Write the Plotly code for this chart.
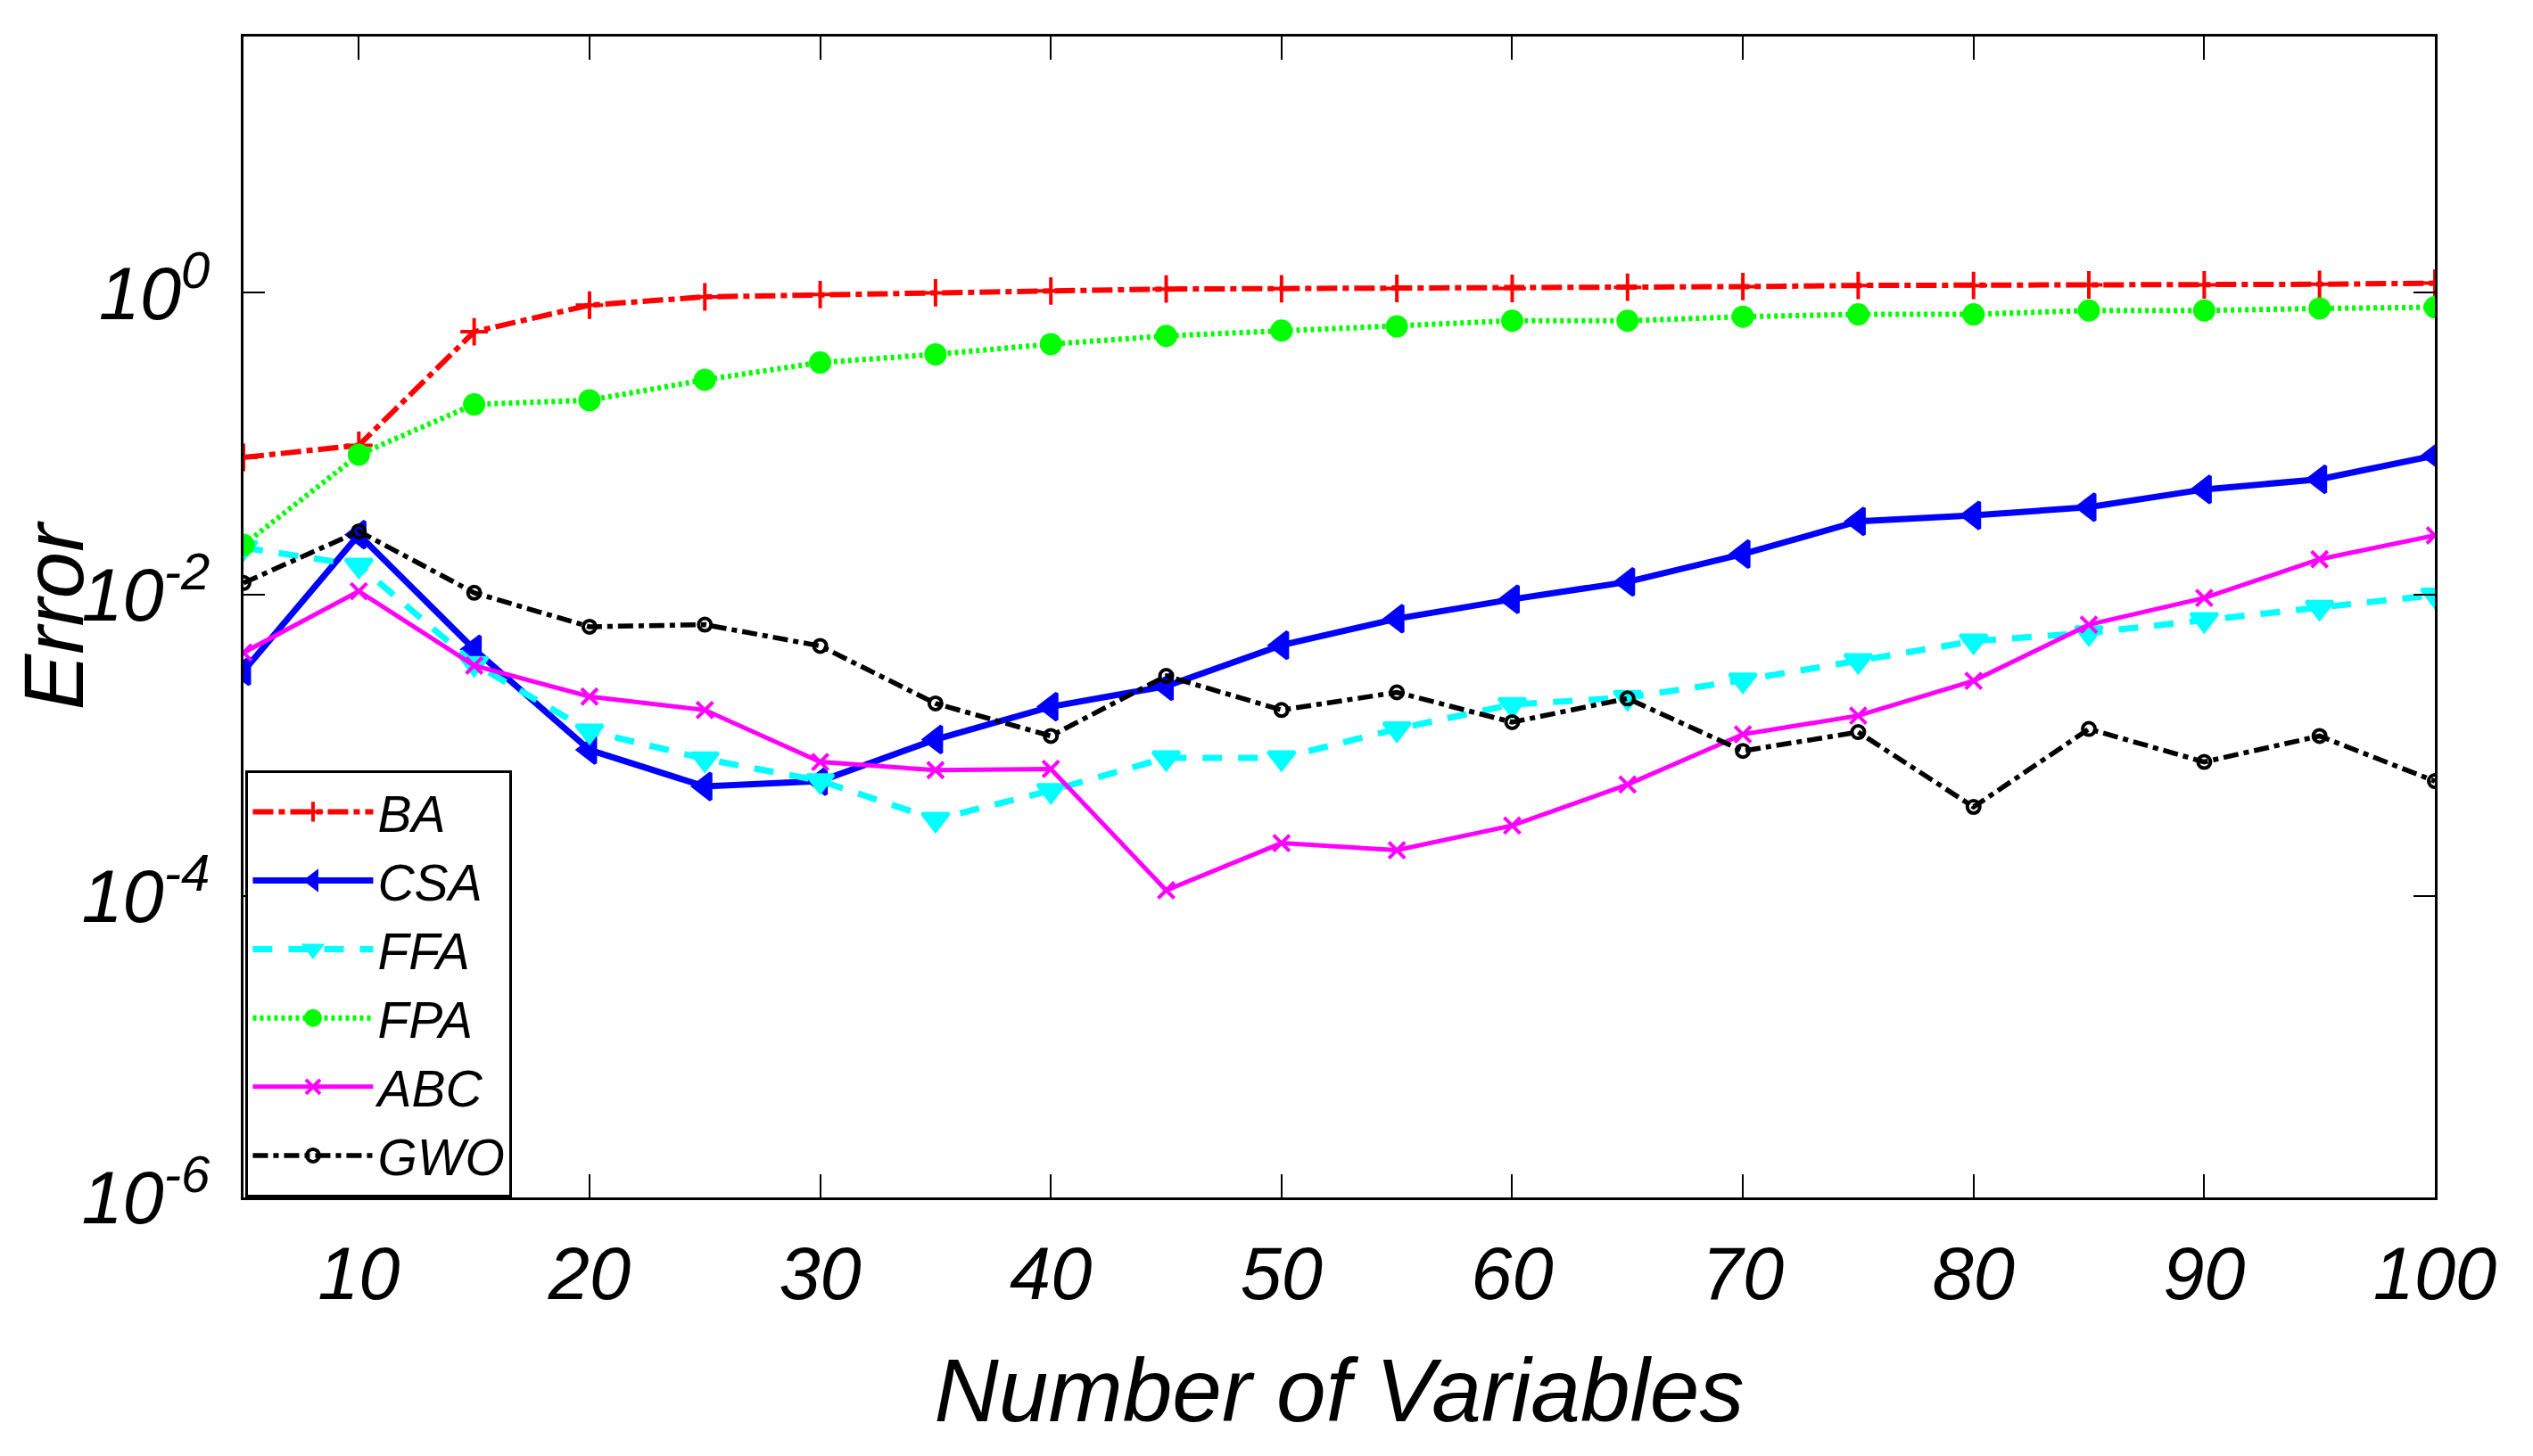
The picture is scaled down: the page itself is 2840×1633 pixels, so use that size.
import plotly.graph_objects as go

# number of variables (x axis)
variables = [5, 10, 15, 20, 25, 30, 35, 40, 45, 50, 55, 60, 65, 70, 75, 80, 85, 90, 95, 100]

# error of each algorithm
ba_err = [0.081, 0.0975, 0.552, 0.829, 0.94, 0.975, 1.0, 1.03, 1.06, 1.065,
          1.07, 1.07, 1.09, 1.10, 1.12, 1.12, 1.13, 1.13, 1.14, 1.16]
csa_err = [0.0031, 0.0249, 0.00432, 0.00093, 0.000532, 0.000577, 0.00109, 0.0018, 0.00246, 0.0046,
           0.0069, 0.00928, 0.0121, 0.0185, 0.0305, 0.0334, 0.0379, 0.0497, 0.058, 0.0834]
ffa_err = [0.0204, 0.0156, 0.00347, 0.00124, 0.00081, 0.00058, 0.000322, 0.0005, 0.000824, 0.000824,
           0.00128, 0.00186, 0.00207, 0.0027, 0.00363, 0.0049, 0.00556, 0.00679, 0.00819, 0.00988]
fpa_err = [0.0213, 0.0845, 0.182, 0.194, 0.265, 0.345, 0.391, 0.457, 0.518, 0.562,
           0.599, 0.653, 0.653, 0.695, 0.72, 0.72, 0.764, 0.764, 0.788, 0.803]
abc_err = [0.00411, 0.0105, 0.00337, 0.0021, 0.00171, 0.000774, 0.000683, 0.000695, 0.000109, 0.000224,
           0.000201, 0.000293, 0.000548, 0.00118, 0.00157, 0.00267, 0.00629, 0.00946, 0.0171, 0.0246]
gwo_err = [0.0119, 0.0262, 0.01025, 0.0061, 0.0063, 0.00455, 0.00189, 0.00115, 0.00288, 0.00171,
           0.00224, 0.00142, 0.00204, 0.000916, 0.00122, 0.000389, 0.00128, 0.000774, 0.00115, 0.000577]

x_ticks = [10, 20, 30, 40, 50, 60, 70, 80, 90, 100]
y_ticks = [1e-6, 1e-4, 1e-2, 1]
y_tick_text = ["10<sup>-6</sup>", "10<sup>-4</sup>", "10<sup>-2</sup>", "10<sup>0</sup>"]

narrow = "Liberation Sans Narrow, Arial Narrow, Liberation Sans, Arial, sans-serif"
wide = "Liberation Sans, Arial, sans-serif"

# (name, values, colour, dash, marker symbol, marker size, line width)
series = [
    ("BA", ba_err, "#FF0000", "23px,6px,7px,6px", "cross-thin", 22, 6),
    ("CSA", csa_err, "#0000FF", "solid", "triangle-left", 26, 7),
    ("FFA", ffa_err, "#00FFFF", "22px,18px", "triangle-down", 26, 7),
    ("FPA", fpa_err, "#00FF00", "4px,4px", "circle", 21, 6),
    ("ABC", abc_err, "#FF00FF", "solid", "x-thin", 18, 5),
    ("GWO", gwo_err, "#000000", "17px,6px,6px,6px", "circle-open", 14, 5.5),
]

fig = go.Figure()
for name, vals, col, dash, sym, msize, lw in series:
    fig.add_trace(go.Scatter(
        x=variables, y=vals, name=name, mode="lines+markers",
        line=dict(color=col, width=lw, dash=dash),
        marker=dict(symbol=sym, size=msize, color=col,
                    line=dict(color=col, width=4)),
    ))

fig.update_layout(
    width=2840, height=1633,
    margin=dict(l=265, r=118, t=33, b=298),
    paper_bgcolor="white", plot_bgcolor="white",
    font=dict(family=narrow, color="black", style="italic"),
    legend=dict(
        x=0.001, y=0.368, xanchor="left", yanchor="top",
        bgcolor="white", bordercolor="black", borderwidth=3,
        font=dict(family=narrow, size=57, style="italic"),
        itemwidth=135, tracegroupgap=0,
    ),
)

fig.update_xaxes(
    range=[5, 100], tickvals=x_ticks, automargin=False,
    showline=True, linecolor="black", linewidth=3, mirror="ticks",
    ticks="inside", ticklen=26, tickwidth=2, tickcolor="black",
    showgrid=False, zeroline=False,
    tickfont=dict(family=narrow, size=83, style="italic"),
    ticklabelstandoff=11,
    title=dict(text="Number of Variables", standoff=51,
               font=dict(family=narrow, size=100, style="italic")),
)
fig.update_yaxes(
    type="log", range=[-6, 1.70], automargin=False,
    tickvals=y_ticks, ticktext=y_tick_text,
    showline=True, linecolor="black", linewidth=3, mirror="ticks",
    ticks="inside", ticklen=24, tickwidth=2, tickcolor="black",
    showgrid=False, zeroline=False,
    tickfont=dict(family=narrow, size=83, style="italic"),
    ticklabelstandoff=18,
    title=dict(text="Error", standoff=0,
               font=dict(family=wide, size=94, style="italic")),
)

fig.write_html("out.html")
